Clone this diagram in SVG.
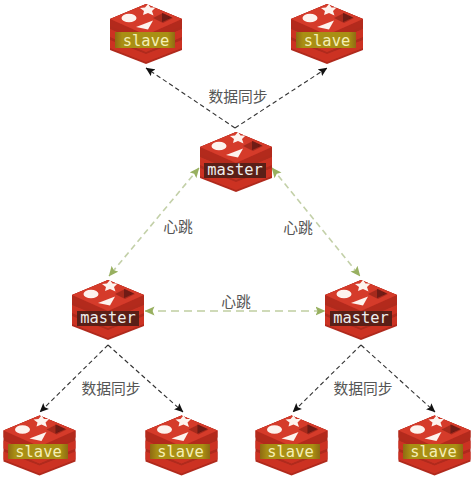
<svg xmlns="http://www.w3.org/2000/svg" width="475" height="491" viewBox="0 0 475 491">
<style>
.t{font-family:"Noto Sans CJK SC","Noto Sans",sans-serif;font-size:14.8px;fill:#555;text-anchor:middle}
.m{font-family:"DejaVu Sans Mono","Liberation Mono",monospace;font-size:15.4px;text-anchor:middle;fill:#eee}
.s{fill:#f5efb4}
.k{fill:none;stroke:#333;stroke-width:1.1;stroke-dasharray:4.5 3}
.g{fill:none;stroke:#c3d0a8;stroke-width:1.6;stroke-dasharray:6 4}
.h{fill:none;stroke:#cfdab8;stroke-width:2;stroke-dasharray:8 5}
.sb{fill:url(#gold)}
.mb{fill:#5a1f17}
</style>
<defs>
<linearGradient id="gold"><stop offset="0" stop-color="#8f6a12"/><stop offset=".12" stop-color="#a98f14"/><stop offset=".88" stop-color="#a98f14"/><stop offset="1" stop-color="#8f6a12"/></linearGradient>
<filter id="soft" x="-5%" y="-5%" width="110%" height="110%"><feGaussianBlur stdDeviation="0.5"/></filter>
<marker id="ka" viewBox="0 0 10 10" refX="9.5" refY="5" markerWidth="9" markerHeight="9" orient="auto-start-reverse" markerUnits="userSpaceOnUse"><path d="M0 0.5L10 5L0 9.5L2 5Z" fill="#111"/></marker>
<marker id="ga" viewBox="0 0 10 10" refX="9.500" refY="5" markerWidth="10" markerHeight="10" orient="auto-start-reverse" markerUnits="userSpaceOnUse"><path d="M0 0.5L10 5L0 9.5L2 5Z" fill="#98b060"/></marker>
<g id="icon" filter="url(#soft)">
<path d="M0 -30L36 -15V16L0 30L-36 16V-15Z" fill="#b02a1e"/>
<path d="M-36 6L0 20L36 6V14L0 28L-36 14Z" fill="#cc3324"/>
<path d="M-36 -5L0 10L36 -5V3L0 18L-36 3Z" fill="#cc3324"/>
<path d="M0 -30L36 -15V-8L0 7L-36 -8V-15Z" fill="#b32a1e"/>
<path d="M0 -30L36 -15L0 1L-36 -15Z" fill="#d53a2a"/>
<ellipse cx="-17" cy="-16" rx="7.500" ry="4.300" fill="#fdf3ee"/>
<path d="M2 -30L4.500 -26.500L9.500 -26.500L6 -23L7.500 -18.500L2 -21L-3 -19L-2 -23L-6 -26L-1 -26.500Z" fill="#fdf3ee"/>
<path d="M-10 -7L7 -13.500L2 -4.500Z" fill="#fdf3ee"/>
<path d="M7 -16L17 -21L27 -16L17 -11Z" fill="#a62a1e"/>
<path d="M16 -21L26 -16.500L16 -12Z" fill="#6f1a12"/>
</g>
</defs>
<g id="connectors">
<path class="k" d="M235 128L146 68" marker-end="url(#ka)"/>
<path class="k" d="M235 128L327 68" marker-end="url(#ka)"/>
<path class="k" d="M108 345L40 412" marker-end="url(#ka)"/>
<path class="k" d="M108 345L183 412" marker-end="url(#ka)"/>
<path class="k" d="M361 345L293 412" marker-end="url(#ka)"/>
<path class="k" d="M361 345L435 412" marker-end="url(#ka)"/>
<path class="g" d="M199 168L109 276" marker-start="url(#ga)" marker-end="url(#ga)"/>
<path class="g" d="M272 168L360 276" marker-start="url(#ga)" marker-end="url(#ga)"/>
<path class="h" d="M145 311H325" marker-start="url(#ga)" marker-end="url(#ga)"/>
</g>
<g id="slave-top-left"><use href="#icon" x="146" y="34"/><rect class="sb" x="115" y="32" width="60" height="16"/><text class="m s" x="146" y="46">slave</text></g>
<g id="slave-top-right"><use href="#icon" x="327" y="34"/><rect class="sb" x="296" y="32" width="60" height="16"/><text class="m s" x="327" y="46">slave</text></g>
<g id="master-top"><use href="#icon" x="236" y="162"/><rect class="mb" x="204" y="163" width="62" height="15"/><text class="m" x="235" y="175">master</text></g>
<g id="master-left"><use href="#icon" x="108" y="310"/><rect class="mb" x="77" y="311" width="62" height="15"/><text class="m" x="108" y="323">master</text></g>
<g id="master-right"><use href="#icon" x="361" y="310"/><rect class="mb" x="330" y="311" width="62" height="15"/><text class="m" x="361" y="323">master</text></g>
<g id="slave-bottom-1"><use href="#icon" x="39.500" y="445.500"/><rect class="sb" x="8" y="444" width="60" height="15"/><text class="m s" x="38.500" y="457">slave</text></g>
<g id="slave-bottom-2"><use href="#icon" x="181.500" y="445.500"/><rect class="sb" x="150" y="444" width="60" height="15"/><text class="m s" x="180.500" y="457">slave</text></g>
<g id="slave-bottom-3"><use href="#icon" x="291.500" y="445.500"/><rect class="sb" x="260" y="444" width="60" height="15"/><text class="m s" x="290.500" y="457">slave</text></g>
<g id="slave-bottom-4"><use href="#icon" x="434.500" y="445.500"/><rect class="sb" x="403" y="444" width="60" height="15"/><text class="m s" x="433.500" y="457">slave</text></g>
<g id="labels">
<text class="t" x="238" y="102">数据同步</text>
<text class="t" x="178" y="232">心跳</text>
<text class="t" x="298" y="233">心跳</text>
<text class="t" x="236" y="307">心跳</text>
<text class="t" x="111" y="394">数据同步</text>
<text class="t" x="363" y="394">数据同步</text>
</g>
</svg>
